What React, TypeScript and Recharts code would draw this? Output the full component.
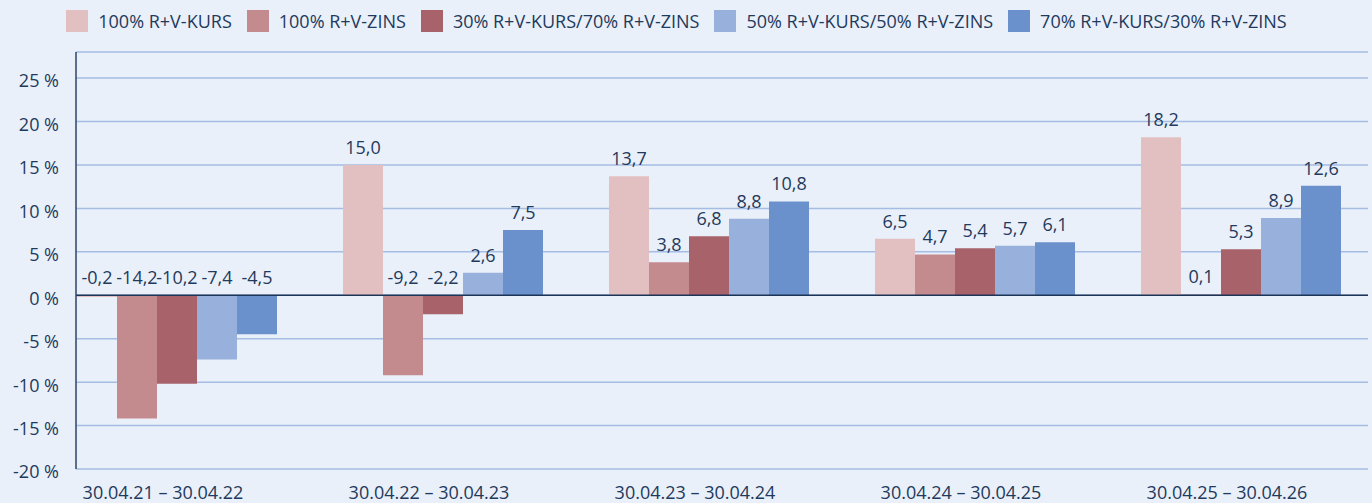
import {
  BarChart, Bar, XAxis, YAxis, CartesianGrid, Legend, ReferenceLine, LabelList,
} from 'recharts';

const periods = [
  '30.04.21 – 30.04.22',
  '30.04.22 – 30.04.23',
  '30.04.23 – 30.04.24',
  '30.04.24 – 30.04.25',
  '30.04.25 – 30.04.26',
];

const kurs100 = [-0.2, 15.0, 13.7, 6.5, 18.2];
const zins100 = [-14.2, -9.2, 3.8, 4.7, 0.1];
const mix30_70 = [-10.2, -2.2, 6.8, 5.4, 5.3];
const mix50_50 = [-7.4, 2.6, 8.8, 5.7, 8.9];
const mix70_30 = [-4.5, 7.5, 10.8, 6.1, 12.6];

const yTicks = [-20, -15, -10, -5, 0, 5, 10, 15, 20, 25];

const seriesDefs = [
  { key: 'kurs100', name: '100% R+V-KURS', color: '#e2c0c1', values: kurs100 },
  { key: 'zins100', name: '100% R+V-ZINS', color: '#c48b8e', values: zins100 },
  { key: 'mix30_70', name: '30% R+V-KURS/70% R+V-ZINS', color: '#a8636a', values: mix30_70 },
  { key: 'mix50_50', name: '50% R+V-KURS/50% R+V-ZINS', color: '#98b0dc', values: mix50_50 },
  { key: 'mix70_30', name: '70% R+V-KURS/30% R+V-ZINS', color: '#6a91cb', values: mix70_30 },
];

const data = periods.map((p, i) => {
  const row: Record<string, string | number> = { period: p };
  seriesDefs.forEach((s) => { row[s.key] = s.values[i]; });
  return row;
});

const FONT = '"Open Sans", sans-serif';
const TEXT = '#1f3a5c';
const BG = '#e9f0fa';

const fmt = (v: number) => v.toFixed(1).replace('.', ',');

// Beschriftung immer über dem Balken bzw. über der Nulllinie
const ValueLabel = (props: any) => {
  const { x, y, width, height, value } = props;
  const top = Math.min(y, y + height);
  return (
    <text
      x={x + width / 2}
      y={top - 11}
      textAnchor="middle"
      fill={TEXT}
      fontSize={18}
      fontFamily={FONT}
    >
      {fmt(value)}
    </text>
  );
};

const LegendContent = () => (
  <div
    style={{
      height: 52,
      display: 'flex',
      justifyContent: 'center',
      alignItems: 'flex-start',
      paddingTop: 9,
      boxSizing: 'border-box',
      fontFamily: FONT,
      fontSize: 18,
      color: TEXT,
    }}
  >
    {seriesDefs.map((s) => (
      <div key={s.key} style={{ display: 'flex', alignItems: 'center', marginRight: 15 }}>
        <span style={{ width: 22, height: 22, background: s.color, marginRight: 10 }} />
        <span>{s.name}</span>
      </div>
    ))}
  </div>
);

export default function App() {
  return (
    <div
      style={{
        position: 'fixed',
        left: 0,
        top: 0,
        width: 1372,
        height: 503,
        overflow: 'hidden',
        background: BG,
      }}
    >
      <BarChart
        width={1372}
        height={503}
        data={data}
        margin={{ top: 0, right: 4, bottom: 0, left: 0 }}
        barGap={0}
        barSize={40}
      >
        <Legend verticalAlign="top" content={<LegendContent />} />
        <CartesianGrid vertical={false} stroke="#a6bde3" strokeWidth={1.5} />
        <XAxis
          dataKey="period"
          height={34}
          axisLine={false}
          tickLine={false}
          tickSize={0}
          tickMargin={17}
          padding={{ left: -32, right: -6 }}
          tick={{ fill: TEXT, fontSize: 18, fontFamily: FONT, dx: -14 }}
          interval={0}
        />
        <YAxis
          width={76}
          domain={[-20, 28]}
          ticks={yTicks}
          allowDataOverflow
          tickLine={false}
          tickSize={0}
          tickMargin={17}
          axisLine={{ stroke: '#2a4566', strokeWidth: 1.5 }}
          tickFormatter={(v: number) => `${v} %`}
          tick={{ fill: TEXT, fontSize: 18, fontFamily: FONT, dy: 3 }}
        />
        {seriesDefs.map((s) => (
          <Bar key={s.key} dataKey={s.key} name={s.name} fill={s.color} isAnimationActive={false}>
            <LabelList dataKey={s.key} content={<ValueLabel />} />
          </Bar>
        ))}
        <ReferenceLine y={0} stroke="#1c3557" strokeWidth={1.5} />
      </BarChart>
    </div>
  );
}
